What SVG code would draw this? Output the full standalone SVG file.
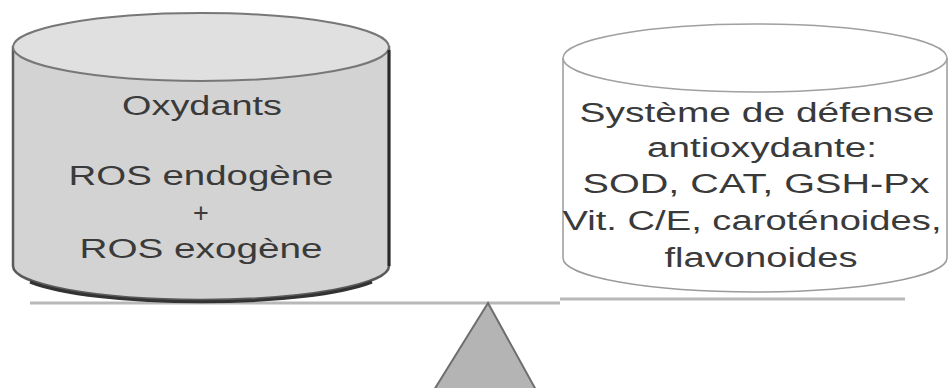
<svg xmlns="http://www.w3.org/2000/svg" width="948" height="388" viewBox="0 0 948 388">
<style>
.t{font-family:"Liberation Sans",Arial,sans-serif;font-size:27px;fill:#3a3a3a;text-anchor:middle}
.beam{stroke:#b8b8b8;stroke-width:3;fill:none}
</style>
<rect width="948" height="388" fill="#ffffff"/>
<g id="connectors">
<line class="beam" x1="30" y1="303" x2="560" y2="303"/>
<line class="beam" x1="560" y1="299" x2="905" y2="299"/>
</g>
<g id="fulcrum">
<polygon points="488,303 434,390 536,390" fill="#b4b4b4" stroke="#6e6e6e" stroke-width="2"/>
</g>
<g id="oxydants">
<path d="M13,47 L13,266 A188,34 0 0 0 389,266 L389,47 Z" fill="#d3d3d3" stroke="#5a5a5a" stroke-width="2.5"/>
<path d="M30,282 A188,34 0 0 0 372,282" fill="none" stroke="#333" stroke-width="3"/>
<ellipse cx="201" cy="47" rx="188" ry="34" fill="#e0e0e0" stroke="#777" stroke-width="2"/>
<line x1="389" y1="50" x2="389" y2="266" stroke="#2a2a2a" stroke-width="3"/>
<text class="t" x="202" y="115" textLength="160" lengthAdjust="spacingAndGlyphs">Oxydants</text>
<text class="t" x="201" y="185" textLength="265" lengthAdjust="spacingAndGlyphs">ROS endogène</text>
<text class="t" x="201" y="222">+</text>
<text class="t" x="201" y="258" textLength="243" lengthAdjust="spacingAndGlyphs">ROS exogène</text>
</g>
<g id="defense">
<path d="M563,58 L563,258 A192,34 0 0 0 947,258 L947,58" fill="#ffffff" stroke="#9a9a9a" stroke-width="1.5"/>
<ellipse cx="755" cy="58" rx="192" ry="34" fill="#ffffff" stroke="#a0a0a0" stroke-width="1.5"/>
<text class="t" x="757" y="122" textLength="355" lengthAdjust="spacingAndGlyphs">Système de défense</text>
<text class="t" x="762" y="157" textLength="230" lengthAdjust="spacingAndGlyphs">antioxydante:</text>
<text class="t" x="756" y="193" textLength="347" lengthAdjust="spacingAndGlyphs">SOD, CAT, GSH-Px</text>
<text class="t" x="752" y="230" textLength="379" lengthAdjust="spacingAndGlyphs">Vit. C/E, caroténoides,</text>
<text class="t" x="761" y="267" textLength="193" lengthAdjust="spacingAndGlyphs">flavonoides</text>
</g>
</svg>
